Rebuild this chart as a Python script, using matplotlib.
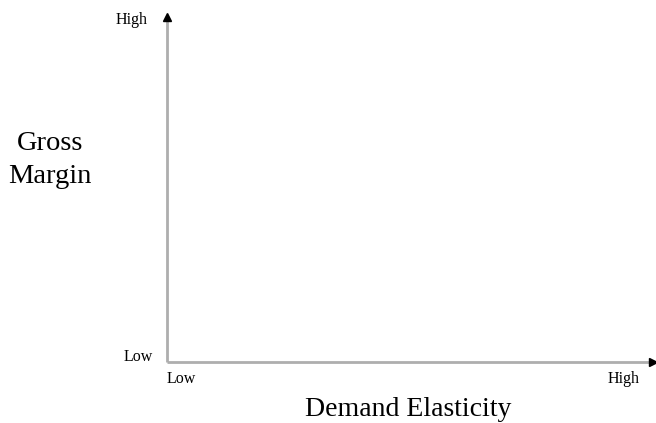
import matplotlib
matplotlib.use("Agg")
import matplotlib.pyplot as plt
from matplotlib.transforms import offset_copy

plt.rcParams['font.family'] = ['Liberation Serif', 'DejaVu Serif']

x_title = "Demand Elasticity"
y_title = "Gross\nMargin"
x_levels = ["Low", "High"]
y_levels = ["Low", "High"]
x_level_pos = [0.0, 0.973]
y_level_pos = [0.014, 0.991]

fig = plt.figure(figsize=(6.56, 4.23), dpi=100)
ax = fig.add_axes([167 / 656, 61 / 423, 486 / 656, 345 / 423])
ax.set_xlim(0, 1)
ax.set_ylim(0, 1)
ax.axis('off')

axis_col = '#aeaeae'
ax.plot([0, 0.995], [0, 0], color=axis_col, lw=2.0, clip_on=False, solid_capstyle='butt')
ax.plot([0, 0], [0, 0.99], color=axis_col, lw=2.0, clip_on=False, solid_capstyle='butt')
ax.plot([1.0], [0], marker='>', color='black', ms=5.5, clip_on=False)
ax.plot([0], [1.0], marker='^', color='black', ms=5.5, clip_on=False)

# level labels
below = offset_copy(ax.transData, fig=fig, x=0, y=-17, units='dots')
ax.text(x_level_pos[0], 0, x_levels[0], transform=below, ha='left', va='center', fontsize=11.5)
ax.text(x_level_pos[1], 0, x_levels[1], transform=below, ha='right', va='center', fontsize=11.5)
ax.text(0, y_level_pos[0], y_levels[0], ha='right', va='center', fontsize=11.5,
        transform=offset_copy(ax.transData, fig=fig, x=-14, y=0, units='dots'))
ax.text(0, y_level_pos[1], y_levels[1], ha='right', va='center', fontsize=11.5,
        transform=offset_copy(ax.transData, fig=fig, x=-19, y=0, units='dots'))

fig.text(305 / 656, 1 - 409 / 423, x_title, ha='left', va='center', fontsize=20)
fig.text(50 / 656, 1 - 160 / 423, y_title, ha='center', va='center', fontsize=20.5,
         linespacing=1.37, multialignment='center')

fig.savefig("out.png", dpi=100)
